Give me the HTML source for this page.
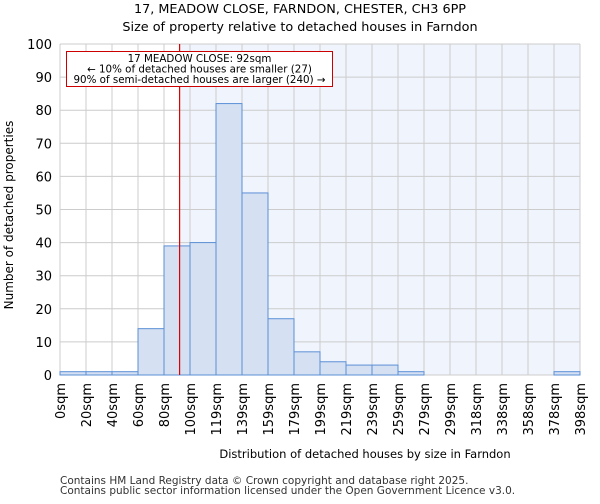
<!DOCTYPE html>
<html><head><meta charset="utf-8"><style>
body{margin:0;background:#fff;font-family:"DejaVu Sans","Liberation Sans",sans-serif;}
</style></head><body>
<svg id="chart" width="600" height="500" xmlns="http://www.w3.org/2000/svg" font-family="DejaVu Sans, Liberation Sans, sans-serif">
<text x="300" y="13" text-anchor="middle" font-size="12.8">17, MEADOW CLOSE, FARNDON, CHESTER, CH3 6PP</text>
<text x="300" y="31" text-anchor="middle" font-size="12.8">Size of property relative to detached houses in Farndon</text>
<g id="plot"></g>
<text x="365" y="458" text-anchor="middle" font-size="11.5">Distribution of detached houses by size in Farndon</text>
<text transform="translate(13,215) rotate(-90)" text-anchor="middle" font-size="12">Number of detached properties</text>
<text x="60" y="484" font-size="10.5" fill="#333">Contains HM Land Registry data © Crown copyright and database right 2025.</text>
<text x="60" y="494" font-size="10.5" fill="#333">Contains public sector information licensed under the Open Government Licence v3.0.</text>
</svg>
<script>
const xLabels=["0sqm","20sqm","40sqm","60sqm","80sqm","100sqm","119sqm","139sqm","159sqm","179sqm","199sqm","219sqm","239sqm","259sqm","279sqm","299sqm","318sqm","338sqm","358sqm","378sqm","398sqm"];
const counts=[1,1,1,14,39,40,82,55,17,7,4,3,3,1,0,0,0,0,0,1];
const yTicks=[0,10,20,30,40,50,60,70,80,90,100];
const markerBin=4.6;
const NS="http://www.w3.org/2000/svg";
const g=document.getElementById('plot');
const L=60,R=580,T=44,B=375,bw=(R-L)/counts.length;
const xs=i=>L+i*bw, ys=v=>B-(v/100)*(B-T);
function mk(t,a){const e=document.createElementNS(NS,t);for(const k in a)e.setAttribute(k,a[k]);g.appendChild(e);return e;}
const mx=xs(markerBin);
let e=mk('rect',{x:L,y:T,width:R-L,height:B-T,fill:'#fff'});


e=mk('rect',{x:mx,y:T,width:R-mx,height:B-T,fill:'#f0f4fc'});


yTicks.forEach(v=>{
 e=mk('line',{x1:L,x2:R,y1:ys(v),y2:ys(v),stroke:'#ccc','stroke-width':1});
 
 
 e=mk('text',{x:L-8,y:ys(v)+5,'text-anchor':'end','font-size':13});
 e.textContent=v;
 
 
});
xLabels.forEach((s,i)=>{
 const x=xs(i);
 e=mk('line',{x1:x,x2:x,y1:T,y2:B,stroke:'#ccc','stroke-width':1});
 
 
 e=mk('text',{transform:`translate(${x+5},${B+8}) rotate(-90)`,'text-anchor':'end','font-size':13});
 e.textContent=s;
 
 
});
counts.forEach((c,i)=>{
 e=mk('rect',{x:xs(i),y:ys(c),width:bw,height:B-ys(c),fill:'#d6e0f3',stroke:'#5b8fd6','stroke-width':1});
 
 
});
e=mk('line',{x1:mx,x2:mx,y1:T,y2:B,stroke:'#e00000','stroke-width':1.2});


e=mk('rect',{x:66.5,y:51.5,width:266,height:35,fill:'#fff',stroke:'#c00','stroke-width':1});


["17 MEADOW CLOSE: 92sqm","← 10% of detached houses are smaller (27)","90% of semi-detached houses are larger (240) →"].forEach((t,i)=>{
 e=mk('text',{x:199.5,y:62+i*10.5,'text-anchor':'middle','font-size':10.3});
 e.textContent=t;
 
 
});
</script>
</body></html>
